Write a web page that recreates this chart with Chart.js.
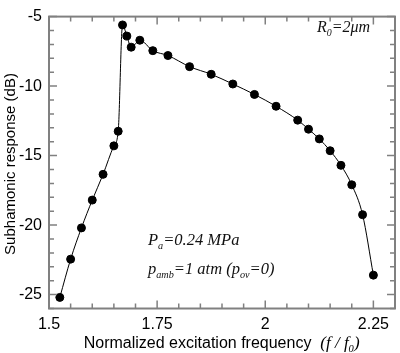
<!DOCTYPE html>
<html>
<head>
<meta charset="utf-8">
<script src="https://cdn.jsdelivr.net/npm/chart.js@4.4.0/dist/chart.umd.min.js"></script>
<style>
  html, body { margin: 0; padding: 0; background: #fff; }
  #wrap { width: 400px; height: 353px; }
</style>
</head>
<body>
<div id="wrap"><canvas id="chart" width="400" height="353"></canvas></div>
<script>
// normalized excitation frequency f/f0
const freq = [1.525, 1.55, 1.575, 1.6, 1.625, 1.65, 1.66, 1.67, 1.68, 1.69, 1.71, 1.74, 1.775,
    1.825, 1.875, 1.925, 1.975, 2.025, 2.075, 2.1, 2.125, 2.15, 2.175, 2.2, 2.225, 2.25];
// subharmonic response in dB
const response = [-25.2, -22.45, -20.2, -18.2, -16.35, -14.3, -13.25, -5.6, -6.4, -7.2, -6.7, -7.45, -7.8,
    -8.6, -9.15, -9.85, -10.6, -11.45, -12.45, -13.1, -13.8, -14.65, -15.7, -17.1, -19.25, -23.6];

const xTicks = [1.5, 1.75, 2, 2.25];
const xTickLabels = ['1.5', '1.75', '2', '2.25'];
const yTicks = [-5, -10, -15, -20, -25];
const yTickLabels = ['-5', '-10', '-15', '-20', '-25'];

const frameColor = '#808080';
const serif = '"Liberation Serif", "DejaVu Serif", serif';
const sans = '"Liberation Sans", Arial, sans-serif';

// draws box frame + inward ticks on all four sides
const framePlugin = {
    id: 'frame',
    afterDatasetsDraw(chart) {
        const ctx = chart.ctx;
        const a = chart.chartArea;
        const xs = chart.scales.x, ys = chart.scales.y;
        ctx.save();
        ctx.strokeStyle = frameColor;
        ctx.lineWidth = 1.5;
        for (let v = 1.5; v <= 2.3001; v += 0.05) {
            const px = xs.getPixelForValue(v);
            const major = Math.abs(v / 0.25 - Math.round(v / 0.25)) < 0.01;
            const len = major ? 8 : 5;
            ctx.beginPath();
            ctx.moveTo(px, a.bottom); ctx.lineTo(px, a.bottom - len);
            ctx.moveTo(px, a.top); ctx.lineTo(px, a.top + len);
            ctx.stroke();
        }
        for (let v = -26; v <= -5; v += 1) {
            const py = ys.getPixelForValue(v);
            const len = (v % 5 === 0) ? 8 : 5;
            ctx.beginPath();
            ctx.moveTo(a.left, py); ctx.lineTo(a.left + len, py);
            ctx.moveTo(a.right, py); ctx.lineTo(a.right - len, py);
            ctx.stroke();
        }
        ctx.lineWidth = 2;
        ctx.strokeRect(a.left, a.top, a.right - a.left, a.bottom - a.top);
        ctx.restore();
    }
};

function drawRich(ctx, x, y, parts, size) {
    let cx = x;
    parts.forEach(p => {
        const s = p.sub ? size * 0.62 : size;
        ctx.font = 'italic ' + s + 'px ' + serif;
        ctx.fillText(p.t, cx, p.sub ? y + size * 0.22 : y);
        cx += ctx.measureText(p.t).width;
    });
    return cx;
}

// annotations and axis titles
const textPlugin = {
    id: 'texts',
    afterDraw(chart) {
        const ctx = chart.ctx;
        const a = chart.chartArea;
        ctx.save();
        ctx.fillStyle = '#111';
        ctx.textBaseline = 'alphabetic';
        ctx.textAlign = 'left';
        drawRich(ctx, 317, 32, [{t: 'R'}, {t: '0', sub: true}, {t: '=2\u03bcm'}], 16);
        drawRich(ctx, 148, 245, [{t: 'P'}, {t: 'a', sub: true}, {t: '=0.24 MPa'}], 16.5);
        drawRich(ctx, 148, 274, [{t: 'p'}, {t: 'amb', sub: true}, {t: '=1 atm (p'}, {t: 'ov', sub: true}, {t: '=0)'}], 16.5);

        // x title
        const main = 'Normalized excitation frequency  ';
        ctx.font = '16px ' + sans;
        const w1 = ctx.measureText(main).width;
        ctx.font = 'italic 17px ' + serif;
        const w2 = ctx.measureText('(f / f').width + ctx.measureText(')').width + 6;
        const start = (a.left + a.right) / 2 - (w1 + w2) / 2;
        ctx.font = '16px ' + sans;
        ctx.fillStyle = '#000';
        ctx.fillText(main, start, 348);
        drawRich(ctx, start + w1, 348, [{t: '(f / f'}, {t: '0', sub: true}, {t: ')'}], 17);

        // y title
        ctx.save();
        ctx.translate(15, 164);
        ctx.rotate(-Math.PI / 2);
        ctx.textAlign = 'center';
        ctx.font = '15px ' + sans;
        ctx.fillText('Subhamonic response (dB)', 0, 0);
        ctx.restore();
        ctx.restore();
    }
};

const ctx = document.getElementById('chart').getContext('2d');
new Chart(ctx, {
    type: 'scatter',
    data: {
        datasets: [{
            data: freq.map((f, i) => ({x: f, y: response[i]})),
            showLine: true,
            borderColor: '#000',
            borderWidth: 1,
            backgroundColor: '#000',
            pointRadius: 4,
            pointHoverRadius: 4,
            cubicInterpolationMode: 'monotone'
        }]
    },
    options: {
        responsive: false,
        animation: false,
        layout: { padding: { top: 5, right: 1, left: 0, bottom: 0 } },
        plugins: { legend: { display: false }, tooltip: { enabled: false } },
        scales: {
            x: {
                type: 'linear',
                min: 1.5,
                max: 2.3,
                afterBuildTicks: s => { s.ticks = xTicks.map(v => ({value: v})); },
                afterFit: s => { s.height = 44.5; },
                grid: { display: false, drawTicks: false },
                border: { display: false },
                ticks: {
                    padding: 6,
                    color: '#000',
                    font: { family: sans, size: 16 },
                    callback: v => xTickLabels[xTicks.indexOf(v)]
                }
            },
            y: {
                min: -26,
                max: -5,
                afterBuildTicks: s => { s.ticks = yTicks.map(v => ({value: v})); },
                afterFit: s => { s.width = 49; },
                grid: { display: false, drawTicks: false },
                border: { display: false },
                ticks: {
                    padding: 7,
                    color: '#000',
                    font: { family: sans, size: 16 },
                    callback: v => yTickLabels[yTicks.indexOf(v)]
                }
            }
        }
    },
    plugins: [framePlugin, textPlugin]
});
</script>
</body>
</html>
